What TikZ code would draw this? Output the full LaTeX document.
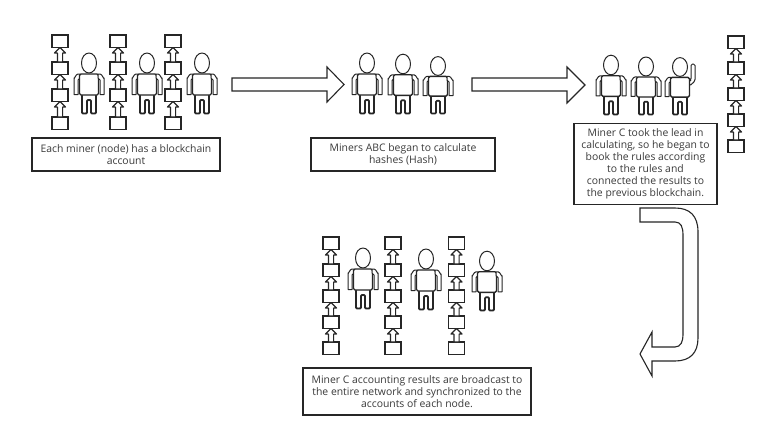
\documentclass[tikz,border=0pt]{standalone}
\usepackage{fontspec}
\setmainfont{Open Sans}
\usetikzlibrary{calc}
\definecolor{ink}{HTML}{262626}
\definecolor{textink}{HTML}{3A3A3A}
\tikzset{
  outline/.style={draw=ink,line width=1pt,fill=white,line join=round},
  thickoutline/.style={draw=ink,line width=1.3pt,fill=white,line join=round},
  legoutline/.style={draw=ink,line width=1.8pt,fill=white,line join=round},
  blockcell/.style={draw=ink,line width=1.2pt,fill=white,minimum width=16pt,minimum height=12.5pt,inner sep=0pt,outer sep=0pt},
  caption/.style={draw=ink,line width=1.2pt,fill=white,align=center,text=textink,inner sep=0pt,outer sep=0pt,
    font=\fontsize{10.4}{12}\selectfont},
  bigarrow/.style={draw=ink,line width=1.1pt,fill=white,line join=miter},
}
% One miner around the head centre; #3 is the distance from head centre to feet
\newcommand{\minerbody}[3]{%
  \begin{scope}[shift={(#1,#2)},yscale=#3/51]
    \draw[outline] (1,0) ellipse [x radius=7.5pt,y radius=10pt];
    \draw[outline] (-14,31.5) -- (-14,15) to[out=-90,in=180] (-10,11) -- (-8,11) -- (-8,15) -- (-10,17) -- (-10,31.5) -- cycle;
    \draw[legoutline,rounded corners=1pt] (-6,32) -- (-6,50.5) -- (-1,50.5) -- (-1,37) -- (3,37) -- (3,50.5) -- (8,50.5) -- (8,32);
    \draw[thickoutline,rounded corners=1.5pt] (-8.5,11) rectangle (10.5,32);
  \end{scope}}
\newcommand{\miner}[3]{%
  \minerbody{#1}{#2}{#3}%
  \begin{scope}[shift={(#1,#2)},yscale=#3/51]
    \draw[outline] (16,31.5) -- (16,15) to[out=-90,in=0] (12,11) -- (10,11) -- (10,15) -- (12,17) -- (12,31.5) -- cycle;
  \end{scope}}
\newcommand{\minerhandup}[3]{%
  \minerbody{#1}{#2}{#3}%
  \begin{scope}[shift={(#1,#2)}]
    \draw[outline,rounded corners=1.5pt] (10.5,13) -- (12,13) -- (12,-3) -- (16,-3) -- (16,14) -- (10.5,19) -- cycle;
  \end{scope}}
% A chain of blocks: #1 name, #2 centre x, #3 list of top edges
\newcommand{\chain}[3]{%
  \foreach \top [count=\i] in {#3} {
    \node[blockcell] (#1-\i) at (#2,\top+6.3) {};
  }
  \foreach \top [count=\i, remember=\i as \prev (initially 0)] in {#3} {
    \ifnum\prev>0
      \draw[outline,line width=1.2pt] (#1-\prev.south) -- ++(5.5,5.5) -- ++(-2.9,0)
        -- ($(#1-\i.north)+(2.6,0)$) -- ($(#1-\i.north)+(-2.6,0)$)
        -- ($(#1-\prev.south)+(-2.6,5.5)$) -- ++(-2.9,0) -- cycle;
    \fi
  }}
\begin{document}
\begin{tikzpicture}[x=1pt,y=-1pt]
  \useasboundingbox[fill=white] (0,0) rectangle (768,439);

  % First stage: every miner with a ledger
  \chain{ca}{60}{35,62,89,117}
  \chain{cb}{118}{35,62,89,117}
  \chain{cc}{173}{35,62,89,117}
  \miner{88}{63}{51}
  \miner{146}{63}{51}
  \miner{201}{63}{51}
  \node[caption,minimum width=188pt,minimum height=33pt] (capa) at (126,154.5)
    {Each miner (node) has a blockchain\\account};

  % Arrow to the second stage
  \draw[bigarrow] (232,78) -- (327,78) -- (327,67) -- (344,84.5) -- (327,102) -- (327,91) -- (232,91) -- cycle;

  % Second stage: hashing
  \miner{366}{63}{51}
  \miner{402}{64}{50}
  \miner{437}{66}{48}
  \node[caption,minimum width=184pt,minimum height=33pt] (capb) at (403,154.5)
    {Miners ABC began to calculate\\hashes (Hash)};

  % Arrow to the third stage
  \draw[bigarrow] (472,78) -- (567,78) -- (567,67) -- (585,85) -- (567,103) -- (567,91) -- (472,91) -- cycle;

  % Third stage: miner C finishes first
  \miner{610}{65}{50}
  \miner{645}{66.5}{48.5}
  \minerhandup{679}{67}{48}
  \chain{cd}{736}{36,62,88,114,140}
  \node[caption,minimum width=143pt,minimum height=81pt] (capc) at (645.5,164)
    {Miner C took the lead in\\calculating, so he began to\\book the rules according\\to the rules and\\connected the results to\\the previous blockchain.};

  % Curved arrow down to the last stage
  \draw[bigarrow] (640,208) -- (675,208) .. controls (690,208) and (698,216) .. (698,232)
    -- (698,338) .. controls (698,353) and (690,361) .. (675,361)
    -- (652,361) -- (652,376) -- (640,354) -- (652,332) -- (652,347)
    -- (675,347) .. controls (681,347) and (683,341) .. (683,335)
    -- (683,235) .. controls (683,227) and (681,222) .. (675,222)
    -- (640,222) -- cycle;

  % Last stage: result copied to every node
  \chain{ce}{331}{237,264,290,316,342}
  \chain{cf}{393}{237,264,290,316,342}
  \chain{cg}{456.5}{237,264,290,316,342}
  \miner{362}{258}{51}
  \miner{425}{259}{51}
  \miner{486}{261}{50}
  \node[caption,minimum width=228pt,minimum height=47pt] (capd) at (417,391.5)
    {Miner C accounting results are broadcast to\\the entire network and synchronized to the\\accounts of each node.};
\end{tikzpicture}
\end{document}
